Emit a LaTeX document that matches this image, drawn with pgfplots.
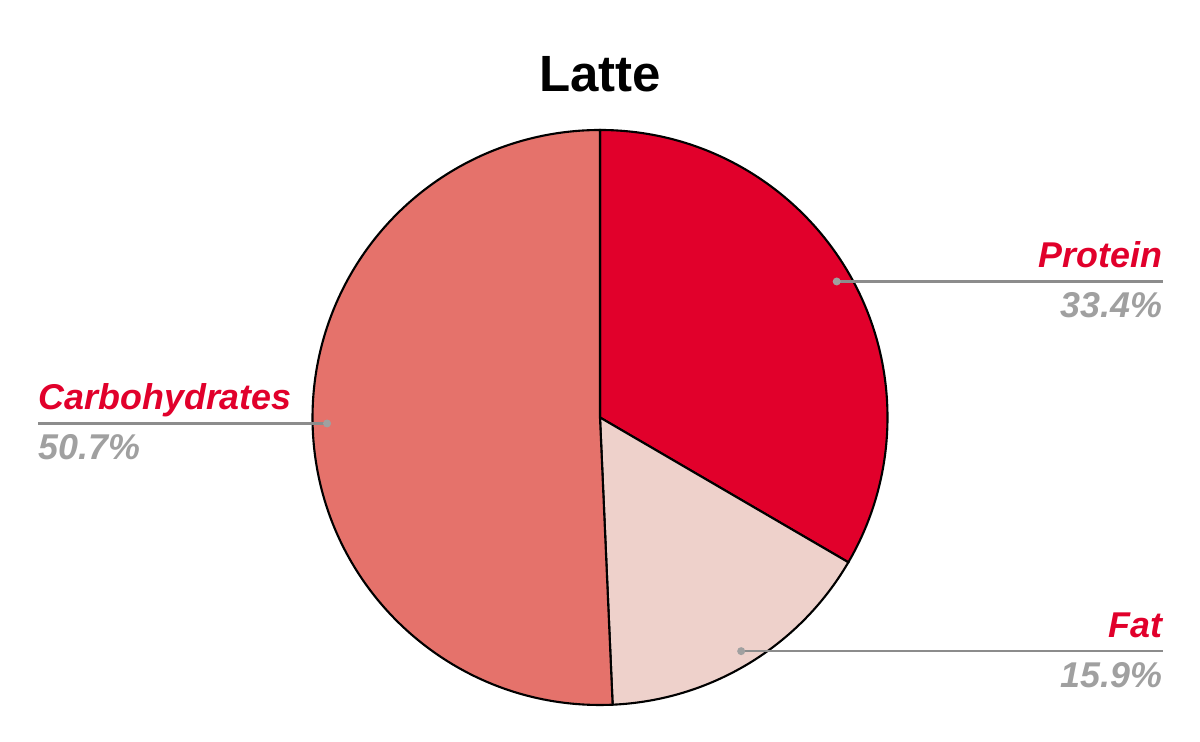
\documentclass[border=0pt]{standalone}
\usepackage{fontspec}
\setmainfont{Liberation Sans}
\usepackage{pgfplots}
\usepackage{pgfplotstable}
\pgfplotsset{compat=1.18}

\definecolor{cProt}{HTML}{E1002B}
\definecolor{cFat}{HTML}{EED1CB}
\definecolor{cCarb}{HTML}{E5726B}
\definecolor{labred}{HTML}{E1002B}
\definecolor{labgray}{HTML}{A0A0A0}
\definecolor{leader}{HTML}{8C8C8C}

% shares in percent, clockwise from 12 o'clock
\pgfplotstableread{
label value
Protein 33.4
Fat 15.9
Carbohydrates 50.7
}\piedata

\pgfplotstablegetelem{0}{value}\of\piedata \let\vP\pgfplotsretval
\pgfplotstablegetelem{1}{value}\of\piedata \let\vF\pgfplotsretval
\pgfplotstablegetelem{2}{value}\of\piedata \let\vC\pgfplotsretval
\pgfmathsetmacro\aP{90-3.6*\vP}
\pgfmathsetmacro\aF{\aP-3.6*\vF}
\pgfmathsetmacro\aC{\aF-3.6*\vC}
\pgfmathsetmacro\mP{(90+\aP)/2}
\pgfmathsetmacro\mF{(\aP+\aF)/2}
\pgfmathsetmacro\mC{(\aF+\aC)/2}

\newcommand\lab{\fontsize{10.2}{12}\selectfont\bfseries\itshape}

\begin{document}
\begin{tikzpicture}
\begin{axis}[
    width=12cm, height=7.42cm, scale only axis,
    xmin=0, xmax=1200, ymin=0, ymax=742,
    hide axis, clip=false]
  \path (axis cs:0,0) rectangle (axis cs:1200,742);
  % wedges (radius 287.5 px = 2.875cm)
  \filldraw[fill=cProt, draw=black, line width=0.6pt]
    (axis cs:600,324.5) -- ++(90:2.875cm) arc[start angle=90, end angle=\aP, radius=2.875cm] -- cycle;
  \filldraw[fill=cFat, draw=black, line width=0.6pt]
    (axis cs:600,324.5) -- ++(\aP:2.875cm) arc[start angle=\aP, end angle=\aF, radius=2.875cm] -- cycle;
  \filldraw[fill=cCarb, draw=black, line width=0.6pt]
    (axis cs:600,324.5) -- ++(\aF:2.875cm) arc[start angle=\aF, end angle=\aC, radius=2.875cm] -- cycle;
  % leader lines
  \draw[leader, line width=0.6pt] (axis cs:600,324.5) ++(\mP:2.73cm) coordinate (dP) -- (dP -| {axis cs:1163,0});
  \fill[labgray] (dP) circle (0.04cm);
  \draw[leader, line width=0.6pt] (axis cs:600,324.5) ++(\mF:2.73cm) coordinate (dF) -- (dF -| {axis cs:1163,0});
  \fill[labgray] (dF) circle (0.04cm);
  \draw[leader, line width=0.6pt] (axis cs:600,324.5) ++(\mC:2.73cm) coordinate (dC) -- (dC -| {axis cs:38,0});
  \fill[labgray] (dC) circle (0.04cm);
  % labels
  \node[anchor=base east, inner sep=0, text=labred] at (axis cs:1163,474) {\lab Protein};
  \node[anchor=base east, inner sep=0, text=labgray] at (axis cs:1163,424) {\lab\vP\%};
  \node[anchor=base east, inner sep=0, text=labred] at (axis cs:1163,104) {\lab Fat};
  \node[anchor=base east, inner sep=0, text=labgray] at (axis cs:1163,54) {\lab\vF\%};
  \node[anchor=base west, inner sep=0, text=labred] at (axis cs:38,332) {\lab Carbohydrates};
  \node[anchor=base west, inner sep=0, text=labgray] at (axis cs:38,282) {\lab\vC\%};
  % title
  \node[anchor=base, inner sep=0] at (axis cs:600,650) {\fontsize{14.5}{17}\selectfont\bfseries Latte};
\end{axis}
\end{tikzpicture}
\end{document}
